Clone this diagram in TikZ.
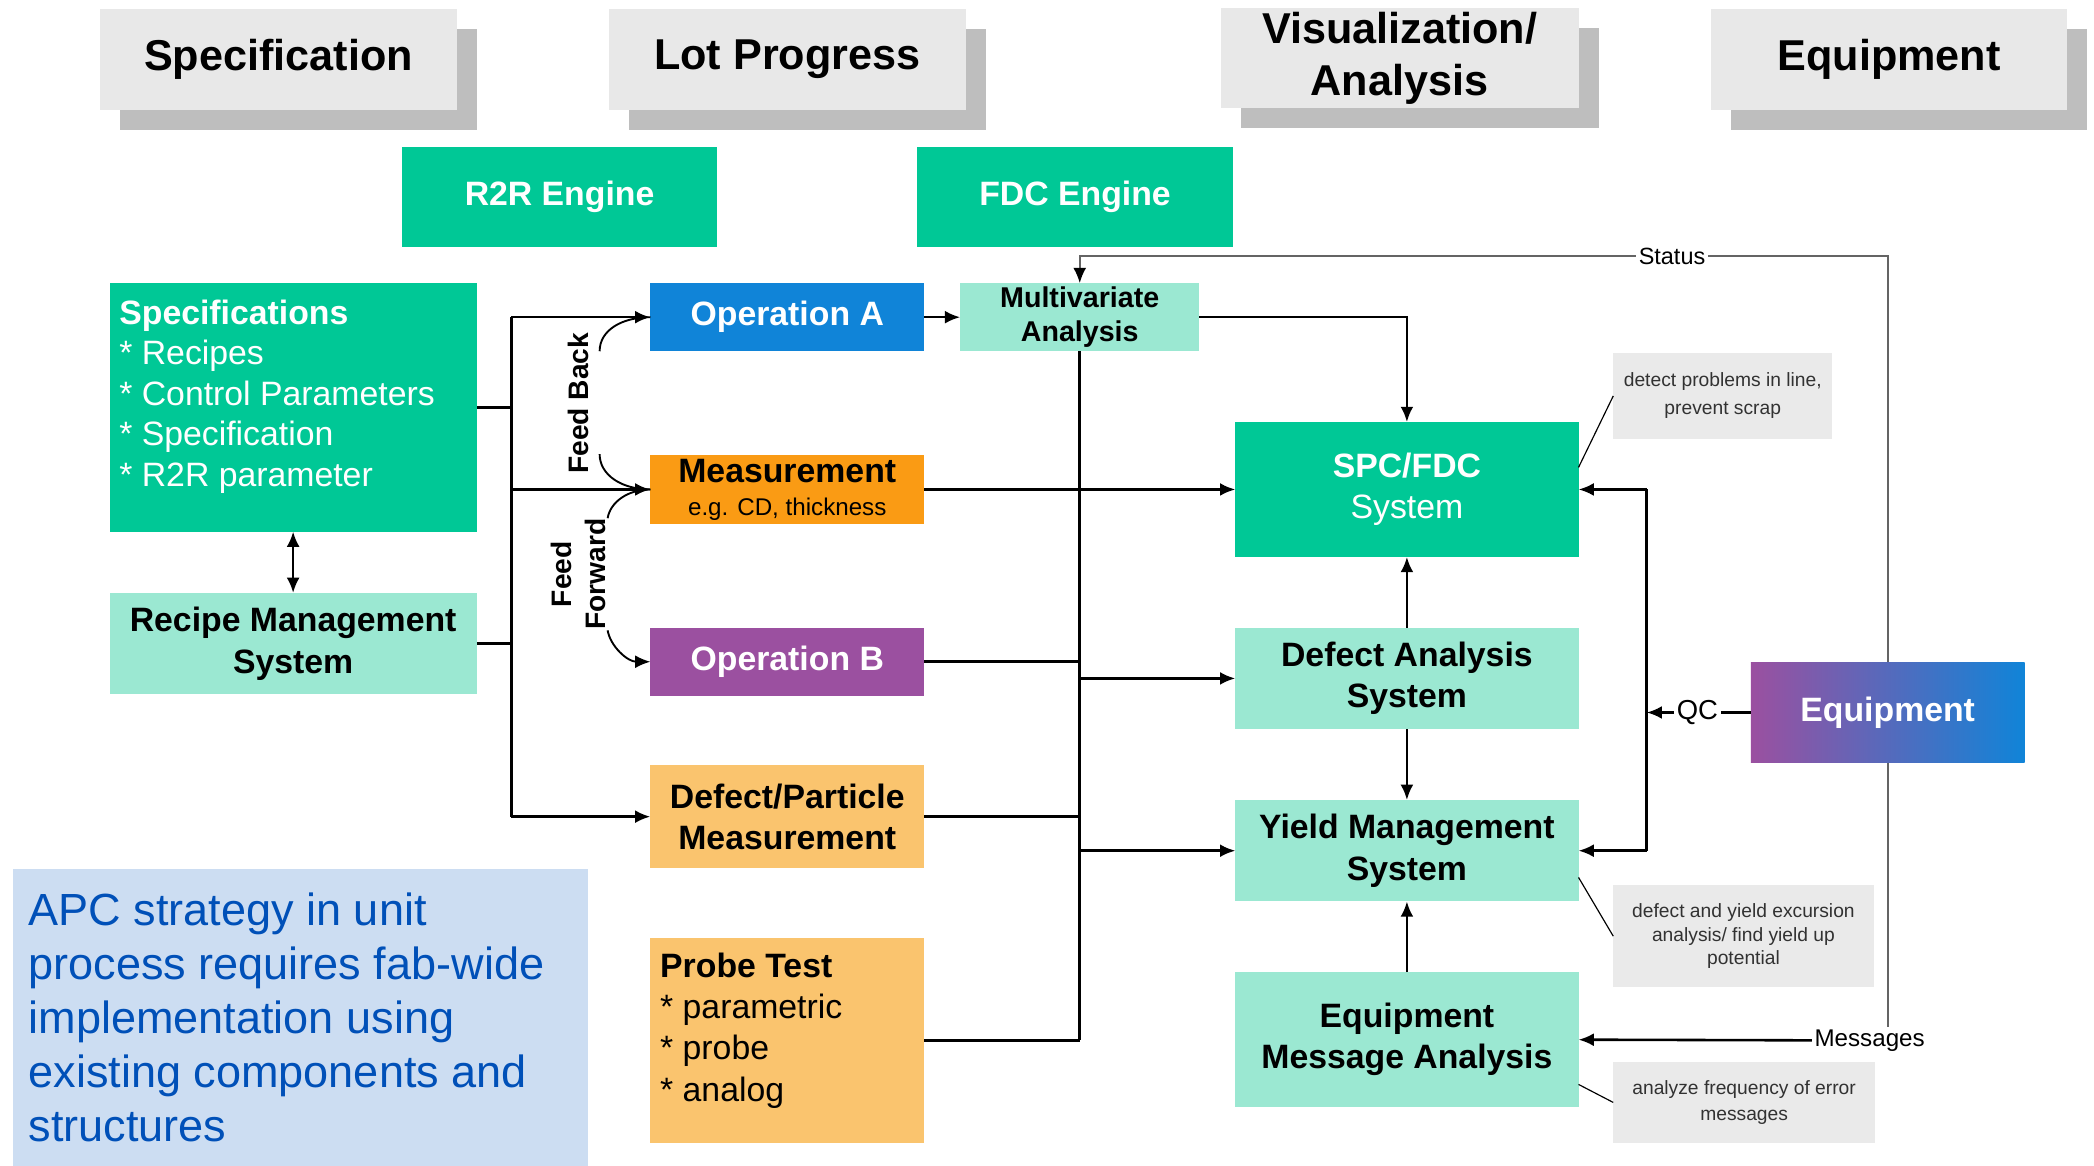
\documentclass[tikz,border=0pt]{standalone}
\usepackage{fontspec}
\setmainfont{Liberation Sans}
\usetikzlibrary{arrows.meta,calc,shadows}
\definecolor{hgreen}{RGB}{0,200,150}
\definecolor{mint}{RGB}{155,232,210}
\definecolor{opblue}{RGB}{16,132,216}
\definecolor{morange}{RGB}{250,155,20}
\definecolor{oppurple}{RGB}{155,80,160}
\definecolor{lorange}{RGB}{250,196,110}
\definecolor{hdrfront}{RGB}{232,232,232}
\definecolor{hdrshadow}{RGB}{190,190,190}
\definecolor{notegray}{RGB}{234,234,234}
\definecolor{apcbg}{RGB}{204,221,242}
\definecolor{apctext}{RGB}{0,80,184}
\definecolor{linegray}{RGB}{100,100,100}
\definecolor{notetext}{RGB}{50,50,50}
\begin{document}
\begin{tikzpicture}[x=0.02cm,y=-0.02cm,
  sz/.style 2 args={minimum width=#1*0.02cm, minimum height=#2*0.02cm},
  box/.style={inner sep=0pt, outer sep=0pt, align=center, font=\fontsize{14.4}{17.6}\selectfont\bfseries},
  hdr/.style={box, fill=hdrfront, sz={267}{75}, font=\fontsize{18.4}{22}\selectfont\bfseries,
     drop shadow={shadow xshift=0.3cm, shadow yshift=-0.3cm, fill=hdrshadow, opacity=1}},
  note/.style={inner sep=0pt, outer sep=0pt, align=center, fill=notegray, text=notetext},
  conn/.style={line width=1.1pt, black},
  arr/.style={conn, -{Latex[length=6.5pt,width=5.5pt]}},
  thinline/.style={line width=0.8pt, linegray},
  leader/.style={line width=0.5pt, black},
  lbl/.style={inner sep=1pt, fill=white, text=black},
  fblbl/.style={inner sep=0pt, font=\fontsize{12}{14.7}\selectfont\bfseries}
]
\useasboundingbox (0,0) rectangle (1568,873);

% header boxes
\node[hdr] (hspec) at (208.5,44.5) {Specification};
\node[hdr] (hlot) at (589.5,44.5) {Lot Progress};
\node[hdr, sz={268}{75}] (hvis) at (1048,43.5) {Visualization/\\Analysis};
\node[hdr] (hequip) at (1414.5,44.5) {Equipment};

% engines
\node[box, fill=hgreen, text=white, sz={236}{75}] (r2r) at (419,147.5) {R2R Engine};
\node[box, fill=hgreen, text=white, sz={236}{75}] (fdc) at (805,147.5) {FDC Engine};

% left column
\node[box, fill=hgreen, sz={275}{186}] (spec) at (219.5,305) {};
\node[inner sep=0pt, anchor=north west, align=left, text=white,
      font=\fontsize{14.4}{17.3}\selectfont] (spectxt) at (89,224)
      {\textbf{Specifications}\\* Recipes\\* Control Parameters\\* Specification\\* R2R parameter};
\node[box, fill=mint, sz={275}{76}] (rms) at (219.5,482) {Recipe Management\\System};

% middle column
\node[box, fill=opblue, text=white, sz={205}{51}] (opa) at (589.5,237.5) {Operation A};
\node[box, fill=mint, sz={179}{51}, font=\fontsize{12.2}{14.7}\selectfont\bfseries] (mva) at (808.5,237.5) {Multivariate\\Analysis};
\node[box, fill=morange, sz={205}{51}, font=\fontsize{14.4}{14}\selectfont\bfseries] (meas) at (589.5,366.5)
      {Measurement\\{\fontsize{10.3}{14}\selectfont\mdseries e.g. CD, thickness}};
\node[box, fill=oppurple, text=white, sz={205}{51}] (opb) at (589.5,495.5) {Operation B};
\node[box, fill=lorange, sz={205}{77}] (dpm) at (589.5,611.5) {Defect/Particle\\Measurement};
\node[box, fill=lorange, sz={205}{154}] (probe) at (589.5,779) {};
\node[inner sep=0pt, anchor=north west, align=left,
      font=\fontsize{14.4}{17.6}\selectfont] (probetxt) at (494,713)
      {\textbf{Probe Test}\\* parametric\\* probe\\* analog};

% right column
\node[box, fill=hgreen, text=white, sz={257}{101}] (spc) at (1053.5,366.5) {SPC/FDC\\{\mdseries System}};
\node[box, fill=mint, sz={257}{76}] (das) at (1053.5,508) {Defect Analysis\\System};
\node[box, fill=mint, sz={257}{76}] (yms) at (1053.5,637) {Yield Management\\System};
\node[box, fill=mint, sz={257}{101}] (ema) at (1053.5,778.5) {Equipment\\Message Analysis};
\node[box, left color=oppurple, right color=opblue, text=white, sz={205}{75}] (equip) at (1413.5,533.5) {Equipment};

% notes
\node[note, sz={164}{65}, font=\fontsize{8.2}{11.9}\selectfont] (note1) at (1290,296.5) {detect problems in line,\\prevent scrap};
\node[note, sz={195}{76}, font=\fontsize{8.2}{9.9}\selectfont] (note2) at (1305.5,701) {defect and yield excursion\\analysis/ find yield up\\potential};
\node[note, sz={196}{61}, font=\fontsize{8.2}{11.3}\selectfont] (note3) at (1306,825.5) {analyze frequency of error\\messages};

% APC text box
\node[inner sep=0pt, outer sep=0pt, fill=apcbg, sz={430}{222}] (apc) at (225,762) {};
\node[inner sep=0pt, anchor=north west, align=left, text=apctext,
      font=\fontsize{19.2}{23}\selectfont] (apctxt) at (21,668)
      {APC strategy in unit\\process requires fab-wide\\implementation using\\existing components and\\structures};

% feed labels
\node[fblbl, rotate=90] (fb) at (433,302) {Feed Back};
\node[fblbl, rotate=90, align=center] (ff) at (433,430) {Feed\\Forward};

% left bus
\coordinate (busL) at (383,0);
\draw[conn] (spec.east) -- (spec.east -| busL);
\draw[conn] (rms.east) -- (rms.east -| busL);
\draw[conn] (opa.west -| busL) -- (dpm.west -| busL);
\draw[arr] (opa.west -| busL) -- (opa.west);
\draw[arr] (meas.west -| busL) -- (meas.west);
\draw[arr] (dpm.west -| busL) -- (dpm.west);
\draw[conn, {Latex[length=6.5pt,width=5.5pt]}-{Latex[length=6.5pt,width=5.5pt]}] (spec.south) -- (rms.north);

% feed back / forward arcs
\draw[line width=0.8pt] (449,263) .. controls (449,247) and (466,237.5) .. (opa.west);
\draw[line width=0.8pt] (449,340) .. controls (449,356) and (466,366.5) .. (meas.west);
\draw[line width=0.8pt] (455,388) .. controls (457,376) and (470,366.5) .. (meas.west);
\draw[line width=0.8pt, -{Latex[length=6.5pt,width=5.5pt]}] (455,472) .. controls (457,484) and (470,495.5) .. (opb.west);

% middle connections
\draw[arr] (opa.east) -- (mva.west);
\draw[arr] (meas.east) -- (spc.west);
\draw[conn] (mva.south) -- (mva.south |- probe.east);
\draw[conn] (opb.east) -- (opb.east -| mva.south);
\draw[conn] (dpm.east) -- (dpm.east -| mva.south);
\draw[conn] (probe.east) -- (probe.east -| mva.south);
\draw[arr] (das.west -| mva.south) -- (das.west);
\draw[arr] (yms.west -| mva.south) -- (yms.west);
\draw[arr] (mva.east) -| (spc.north);

% right column connections
\draw[arr] (das.north) -- (spc.south);
\draw[arr] (das.south) -- (yms.north);
\draw[arr] (ema.north) -- (yms.south);

% QC
\coordinate (qcx) at (1233,0);
\node[lbl, font=\fontsize{11.7}{13}\selectfont] (qc) at (1271,533.5) {QC};
\draw[conn] (equip.west) -- (qc.east);
\draw[arr] (qc.west) -- (qc.west -| qcx);
\draw[conn] (spc.east -| qcx) -- (yms.east -| qcx);
\draw[arr] (spc.east -| qcx) -- (spc.east);
\draw[arr] (yms.east -| qcx) -- (yms.east);

% Status
\node[lbl, font=\fontsize{10}{12}\selectfont] (status) at (1252,192) {Status};
\draw[thinline] (equip.north) |- (status.east);
\draw[thinline, -{Latex[length=6.5pt,width=5.5pt,color=black]}] (status.west) -| (mva.north);

% Messages
\node[lbl, font=\fontsize{10.3}{12}\selectfont] (msg) at (1400,779) {Messages};
\draw[thinline] (equip.south) -- (equip.south |- msg.north);
\draw[arr] (msg.west) -- (ema.east);

% note leaders
\draw[leader] (note1.west) -- ($(spc.east)+(0,-16.5)$);
\draw[leader] (note2.west) -- ($(yms.east)+(0,20)$);
\draw[leader] (note3.west) -- ($(ema.east)+(0,33.5)$);
\end{tikzpicture}
\end{document}
